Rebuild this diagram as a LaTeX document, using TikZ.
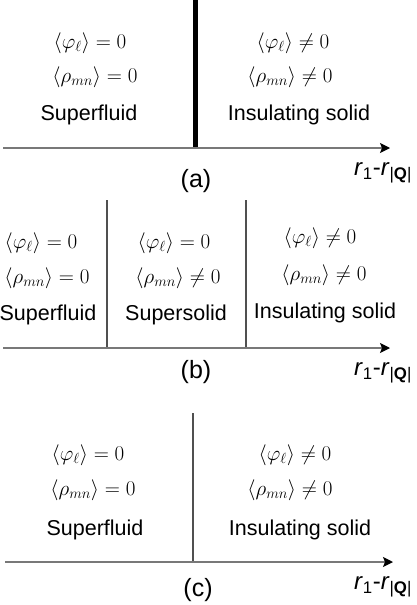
\RequirePackage{fix-cm}
\documentclass[tikz,border=0pt]{standalone}
\usepackage{fontspec}
\setmainfont{Liberation Sans}
\usetikzlibrary{arrows.meta}
\definecolor{axisgray}{RGB}{120,120,120}
\definecolor{wallgray}{RGB}{80,80,80}
\tikzset{
  txt/.style={inner sep=0pt, font=\fontsize{21.5}{24}\selectfont},
  eq/.style={inner sep=0pt, font=\fontsize{21}{24}\selectfont},
  lbl/.style={inner sep=0pt, font=\fontsize{25}{28}\selectfont},
  axlbl/.style={inner sep=0pt, font=\fontsize{24}{26}\selectfont},
  axisline/.style={draw=axisgray, line width=1.2pt, -{Stealth[length=10pt,width=10pt,inset=2pt,black]}},
  wall/.style={draw=wallgray, line width=1.3pt},
  thickwall/.style={draw=black, line width=5pt}
}
\newcommand{\phiz}{$\big\langle \varphi_{\ell} \big\rangle = 0$}
\newcommand{\phin}{$\big\langle \varphi_{\ell} \big\rangle \neq 0$}
\newcommand{\rhoz}{$\big\langle \rho_{mn} \big\rangle = 0$}
\newcommand{\rhon}{$\big\langle \rho_{mn} \big\rangle \neq 0$}
\newcommand{\rlabel}{\textit{r}\textsubscript{1}-\textit{r}\textsubscript{|\textbf{Q}|}}
\begin{document}
\begin{tikzpicture}[x=1pt,y=-1pt]
\useasboundingbox (0,0) rectangle (416,605);
% ---------- (a)
\coordinate (a0) at (3,148);
\coordinate (a1) at (390,148);
\coordinate (aw0) at (195,0);
\coordinate (aw1) at (195,148);
\draw[thickwall] (aw0) -- (aw1);
\draw[axisline] (a0) -- (a1);
\node[eq] (aL1) at (90,43) {\phiz};
\node[eq] (aL2) at (95,77) {\rhoz};
\node[txt] (aL3) at (89,115) {Superfluid};
\node[eq] (aR1) at (293,43) {\phin};
\node[eq] (aR2) at (290,77) {\rhon};
\node[txt] (aR3) at (299,115) {Insulating solid};
\node[lbl] (aT) at (196,181) {(a)};
\node[axlbl] (aX) at (383,173) {\rlabel};
% ---------- (b)
\coordinate (b0) at (3,348);
\coordinate (b1) at (390,348);
\coordinate (bw0) at (107,200);
\coordinate (bw1) at (107,348);
\coordinate (bv0) at (246,200);
\coordinate (bv1) at (246,348);
\draw[wall] (bw0) -- (bw1);
\draw[wall] (bv0) -- (bv1);
\draw[axisline] (b0) -- (b1);
\node[eq] (bL1) at (41,243) {\phiz};
\node[eq] (bL2) at (47,278) {\rhoz};
\node[txt] (bL3) at (48,315) {Superfluid};
\node[eq] (bM1) at (174,243) {\phiz};
\node[eq] (bM2) at (178,278) {\rhon};
\node[txt] (bM3) at (176,315) {Supersolid};
\node[eq] (bR1) at (320,238) {\phin};
\node[eq] (bR2) at (324,275) {\rhon};
\node[txt] (bR3) at (325,313) {Insulating solid};
\node[lbl] (bT) at (196,372) {(b)};
\node[axlbl] (bX) at (383,373) {\rlabel};
% ---------- (c)
\coordinate (c0) at (5,562);
\coordinate (c1) at (393,562);
\coordinate (cw0) at (193,413);
\coordinate (cw1) at (193,562);
\draw[wall] (cw0) -- (cw1);
\draw[axisline] (c0) -- (c1);
\node[eq] (cL1) at (88,455) {\phiz};
\node[eq] (cL2) at (93,490) {\rhoz};
\node[txt] (cL3) at (95,530) {Superfluid};
\node[eq] (cR1) at (295,455) {\phin};
\node[eq] (cR2) at (290,490) {\rhon};
\node[txt] (cR3) at (300,530) {Insulating solid};
\node[lbl] (cT) at (198,590) {(c)};
\node[axlbl] (cX) at (383,587) {\rlabel};
\end{tikzpicture}
\end{document}
